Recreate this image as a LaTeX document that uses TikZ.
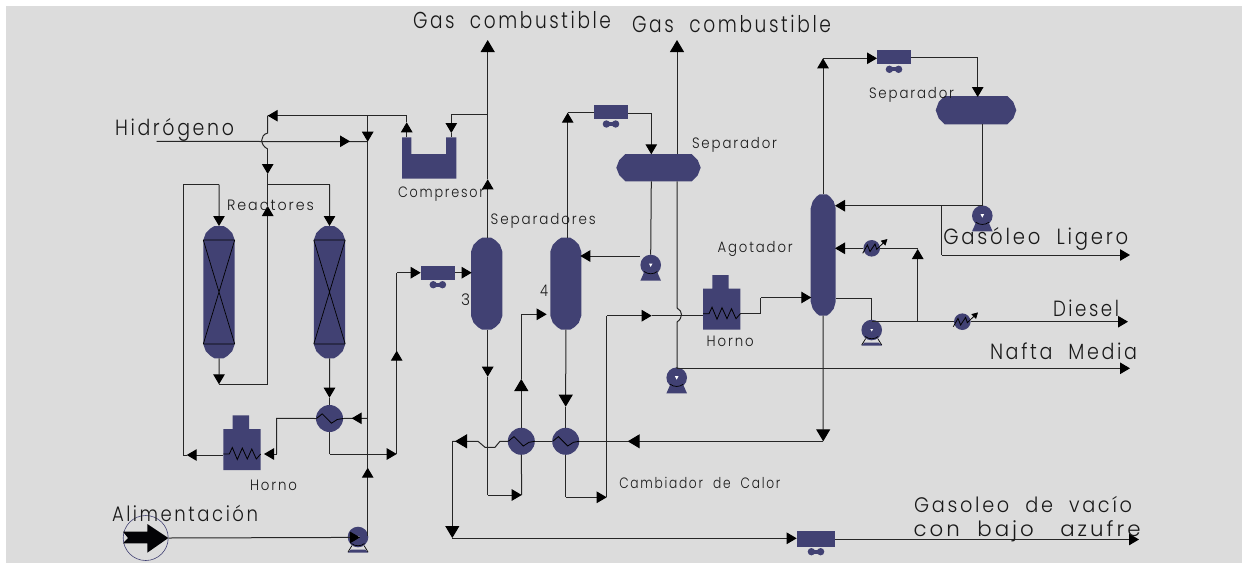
\documentclass[tikz,border=0pt]{standalone}
\usepackage{graphicx}
\usepackage{fontspec}
\setmainfont{Poppins}[UprightFont=* Light,LetterSpace=14]
\usetikzlibrary{arrows.meta}
\definecolor{eq}{HTML}{414173}
\definecolor{bg}{HTML}{DCDCDC}
\definecolor{ln}{HTML}{262626}
\tikzset{
  flow/.style={draw=ln,line width=1pt,line join=miter},
  ar/.style={-{Triangle[length=10pt,width=11.5pt,color=black]}},
  arB/.style={-{Triangle[length=12pt,width=14pt,color=black]}},
  body/.style={inner sep=0pt,outer sep=0pt},
  blockbox/.style={body,fill=eq,rectangle},
  round/.style={body,fill=eq,circle},
  zig/.style={draw=black,line width=0.8pt,line join=miter},
  lbl/.style={anchor=base west,inner sep=0pt,outer sep=0pt,text=black!90}
}
\newcommand{\Pt}[3]{\coordinate (#1) at (#2,#3);}
\newcommand{\towerS}[5]{% name x y w h
  \pgfmathsetmacro{\hh}{#5}\pgfmathsetmacro{\hb}{#5-14}\pgfmathsetmacro{\sc}{#4/31}
  \begin{scope}[shift={(#2,#3)},xscale=\sc]
  \fill[eq] (0,14)--(2.5,7)--(7,2.5)--(11,0)--(20,0)--(24,2.5)--(28.5,7)--(31,14)
    --(31,\hb)--(28.5,\hh-7)--(24,\hh-2.5)--(20,\hh)--(11,\hh)--(7,\hh-2.5)--(2.5,\hh-7)--(0,\hb)--cycle;
  \node[body,minimum width=#4pt,minimum height=#5pt] (#1) at (15.5,\hh/2) {};
  \end{scope}}
\newcommand{\drumS}[5]{% name x1 y1 x2 y2
  \fill[eq] (#2,{(#3+#5)/2})--(#2+3,#3+6)--(#2+9,#3)--(#4-9,#3)--(#4-3,#3+6)--(#4,{(#3+#5)/2})
    --(#4-3,#5-6)--(#4-9,#5)--(#2+9,#5)--(#2+3,#5-6)--cycle;
  \node[body] (#1) at ({(#2+#4)/2},{(#3+#5)/2}) {};}
\newcommand{\blowerS}[5]{% name x1 y1 x2 y2
  \fill[eq] (#2,#3) rectangle (#4,#5);
  \node[body,minimum width={(#4-#2)*1pt},minimum height={(#5-#3)*1pt}] (#1) at ({(#2+#4)/2},{(#3+#5)/2}) {};
  \fill[eq] ({(#2+#4)/2-4.6},#5+5) circle (3.7pt) ({(#2+#4)/2+4.6},#5+5) circle (3.7pt);
  \fill[eq] ({(#2+#4)/2-4.6},#5+3) rectangle ({(#2+#4)/2+4.6},#5+7);}
\newcommand{\pumpS}[3]{% name x y, solid base
  \begin{scope}[shift={(#2,#3)}]
  \node[round,minimum size=20.6pt] (#1) at (0,0) {};
  \fill[eq] (-6.5,7)--(6.5,7)--(10.3,15.7)--(-10.3,15.7)--cycle;
  \draw[black,line width=.7pt] (-6.5,6.5)..controls (-3,9.5) and (3,9.5)..(6.5,6.5);
  \fill[white] (-1.8,-1.5)--(1.8,-1.5)--(0,2)--cycle;
  \end{scope}}
\newcommand{\pumpL}[3]{% name x y, legged base
  \begin{scope}[shift={(#2,#3)}]
  \node[round,minimum size=20.6pt] (#1) at (0,0) {};
  \fill[eq] (-7,12.5)--(7,12.5)--(10.3,15.7)--(-10.3,15.7)--cycle;
  \draw[black,line width=.7pt] (-10,15)--(-6,8.5) (10,15)--(6,8.5);
  \draw[black,line width=.7pt] (-6.5,6.5)..controls (-3,9.5) and (3,9.5)..(6.5,6.5);
  \fill[white] (-1.4,-1)--(1.4,-1)--(0,1.5)--cycle;
  \end{scope}}
\newcommand{\hexS}[3]{% name x y
  \node[round,minimum size=27pt] (#1) at (#2,#3) {};
  \begin{scope}[shift={(#2,#3)}]
  \draw[zig] (-13,0)--(-7.3,-4.7)--(2,4.7)--(7.7,1)--(13.5,0);
  \end{scope}}
\newcommand{\condS}[3]{% name x y
  \node[round,minimum size=16.6pt] (#1) at (#2,#3) {};
  \begin{scope}[shift={(#2,#3)}]
  \draw[zig,-{Triangle[length=6pt,width=6.5pt]}] (-9,5)--(-4.3,-3.3)--(-1.7,3.3)--(3.3,-4.3)--(5,1)--(15.7,-9.3);
  \end{scope}}
\newcommand{\hornoS}[3]{% name x(left) y(top of body)
  \begin{scope}[shift={(#2,#3)}]
  \fill[eq] (0,0)--(9.4,0)--(9.4,-13.7)--(25.7,-13.7)--(25.7,0)--(37.4,0)--(37.4,41)--(0,41)--cycle;
  \node[body,minimum width=37.4pt,minimum height=41pt] (#1) at (18.7,20.5) {};
  \draw[zig] (0,25)--(6,25)--(9,18.5)--(14,30.5)--(19,19)--(24,30)--(28.5,20)--(33,30)--(37.4,25);
  \end{scope}}
\newcommand{\lab}[6]{\node[lbl] (#1) at (#2,#3) {\fontsize{#5pt}{#5pt}\selectfont\resizebox{#4pt}{\height}{#6}};}
\begin{document}
\begin{tikzpicture}[x=1pt,y=-1pt]
\useasboundingbox (0,0) rectangle (1242,563);
\fill[white] (0,0) rectangle (1242,563);
\fill[bg] (6,6) rectangle (1242,563);
% ---------- equipment ----------
\towerS{Ra}{203.3}{226}{31.4}{132.3}
\towerS{Rb}{313.8}{226}{31.4}{132.3}
\foreach \xa/\xb in {203.3/234.7,313.8/345.2}{
  \draw[black,line width=.7pt] (\xa,240)--(\xb,240) (\xa,344)--(\xb,344) (\xa,240)--(\xb,344) (\xb,240)--(\xa,344);}
\towerS{Tc}{471}{237.7}{31.4}{92}
\towerS{Td}{550.3}{237.7}{31}{92}
\towerS{Te}{810.7}{194.3}{25}{121.4}
\drumS{Sa}{616.3}{154}{700.7}{181.3}
\drumS{Sb}{935.7}{96}{1016.3}{124.3}
\blowerS{Ba}{420.7}{266}{455}{279.7}
\blowerS{Bb}{594}{105}{628}{119}
\blowerS{Bc}{877}{50.3}{911}{64.3}
\blowerS{Bd}{796.7}{531}{835.3}{546.7}
\pumpL{Pa}{358}{537}
\pumpS{Pb}{650.7}{265}
\pumpS{Pc}{676.7}{377.7}
\pumpS{Pd}{982.3}{215.7}
\pumpL{Pe}{871.7}{330}
\hexS{Ea}{329.5}{418.5}
\hexS{Eb}{521.3}{441.3}
\hexS{Ec}{565.7}{441.3}
\condS{Ca}{871.7}{248.3}
\condS{Cb}{962.3}{321.7}
\hornoS{Ha}{223.3}{429}
\hornoS{Hb}{703}{288.7}
\fill[eq] (402,137.3)--(411.3,137.3)--(411.3,154)--(446,154)--(446,137.3)--(456.3,137.3)--(456.3,178.7)--(402,178.7)--cycle;
\node[body,minimum width=54.3pt,minimum height=41.4pt] (Cm) at (429.15,158) {};
\node[circle,draw=eq,line width=.6pt,minimum size=45pt,inner sep=0pt] (Fd) at (145.7,538) {};
\fill[black!95!eq] (123,531.7)--(147.3,531.7)--(147.3,524)--(168.3,538)--(147.3,552.7)--(147.3,543.3)--(123,543.3)--(128,538)--cycle;
% ---------- junctions ----------
\Pt{vs}{367.7}{536}\Pt{vu}{367.7}{467.7}\Pt{vb}{367.7}{418.3}\Pt{vc2}{351.7}{418.3}\Pt{vh}{367.7}{141.7}\Pt{vt}{367.7}{115.7}
\Pt{ct}{406.7}{115.7}\Pt{cu}{406.7}{122.3}\Pt{cb}{406.7}{137.3}
\Pt{tl}{267.7}{115.7}\Pt{ha}{267.7}{133}\Pt{hb}{267.7}{149}\Pt{hd}{267.7}{174}\Pt{rj}{267.7}{184.7}\Pt{ru}{267.7}{206}\Pt{rl}{267.7}{384.3}
\Pt{hs}{156.7}{141.3}\Pt{hm}{350}{141.3}
\Pt{rb}{329.5}{184.7}\Pt{ra}{219}{184.7}\Pt{lo}{183.3}{184.7}\Pt{lb}{183.3}{455}\Pt{lt}{186.7}{455}
\Pt{rab}{219}{384.3}
\Pt{rbt}{329.5}{397.7}
\Pt{ea}{276.7}{418.3}\Pt{eb}{276.7}{454}\Pt{ec}{264}{454}
\Pt{fa}{329.5}{454}\Pt{fb}{396.7}{454}\Pt{fu}{396.7}{350.7}\Pt{ft}{396.7}{272.7}
\Pt{vi}{360}{537.4}
\Pt{cr}{451.3}{137}\Pt{crt}{451.3}{133}\Pt{cs}{451.3}{114.3}\Pt{g}{487.7}{114.3}
\Pt{ga}{487.7}{237.7}\Pt{gu}{487.7}{179.3}\Pt{gt}{487.7}{40}
\Pt{gb}{487.7}{329.7}\Pt{gd}{487.7}{376.7}\Pt{ge}{487.7}{495}\Pt{gf}{521.7}{495}
\Pt{tcin}{471.7}{272.7}
\Pt{da}{567.7}{237.7}\Pt{dt}{567.7}{112.7}
\Pt{sa}{651.3}{113.3}\Pt{sb}{651.3}{154.3}\Pt{sc}{651.3}{181.3}
\Pt{pbl}{640}{256}\Pt{pbt}{580.3}{256}
\Pt{w}{677}{154}\Pt{wt}{677}{40}\Pt{wa}{677}{181.3}\Pt{wb}{677}{308}\Pt{wc}{677}{322}\Pt{wd}{677}{368.3}
\Pt{nr}{1130}{368.3}
\Pt{ka}{606.7}{497.3}\Pt{kb}{606.7}{315.7}\Pt{kc}{651.7}{315.7}\Pt{kd}{703}{315.7}
\Pt{ec1}{565.7}{406.7}\Pt{eb1}{521.3}{379}\Pt{eb2}{521.3}{314.3}\Pt{eb3}{546.7}{314.3}\Pt{eb4}{550.3}{314.3}
\Pt{tea}{823.2}{441.3}\Pt{teb}{627.7}{441.3}
\Pt{ja}{500}{441.3}\Pt{jb}{495}{447.3}\Pt{jc}{485}{447.3}\Pt{jd}{478}{441.3}\Pt{je}{455}{441.3}\Pt{jf}{452.3}{441.3}\Pt{jg}{452.3}{538}\Pt{jh}{796.7}{538.3}\Pt{ji}{452.3}{538.3}
\Pt{ba}{835.3}{539.5}\Pt{bb}{1139}{539.5}
\Pt{hba}{760.7}{313.3}\Pt{hbb}{760.7}{297.5}\Pt{hbc}{811.3}{297.5}
\Pt{ta}{823}{194.3}\Pt{tb}{823}{58.3}\Pt{tc}{877}{58.3}
\Pt{ud}{911}{57.3}\Pt{ue}{977.7}{57.3}\Pt{uf}{977.7}{97}
\Pt{va}{982.3}{124.3}\Pt{vc}{982.3}{205.7}\Pt{vd}{835}{205.7}\Pt{ve}{941.7}{205.7}\Pt{vf}{941.7}{255}\Pt{vg}{1130}{255}
\Pt{xa}{917.7}{248.3}\Pt{xb}{835}{248.3}\Pt{xc}{917.7}{321.7}\Pt{xu}{917.7}{249}
\Pt{ya}{835.7}{298.3}\Pt{yb}{871.7}{298.3}\Pt{yd}{871.7}{321.7}\Pt{ye}{1128}{321.7}
% ---------- connectors ----------
\draw[flow,ar] (Fd.east)--(vi);
\draw[flow,ar] (vs)--(vu);
\draw[flow] (vu)--(vt);
\draw[flow,ar] (vt)--(vh);
\draw[flow] (vb)--(Ea.east);
\draw[flow,ar] (vb)--(vc2);
\draw[flow] (cu)--(ct)--(tl);
\draw[flow,ar] (cb)--(cu);
\draw[flow,ar] (vt)--(tl);
\draw[flow] (tl)--(ha)..controls +(-8,2) and +(-8,-4)..(hb);
\draw[flow,ar] (hb)--(hd);
\draw[flow] (hd)--(rj)--(rb);
\draw[flow,ar] (rb)--(Rb.north);
\draw[flow,ar] (rl)--(ru);
\draw[flow] (ru)--(rj);
\draw[flow] (hs)--(vh);
\draw[flow,ar] (hs)--(hm);
\draw[flow] (lb)--(lo)--(ra);
\draw[flow,ar] (ra)--(Ra.north);
\draw[flow,ar] (Ra.south)--(rab);
\draw[flow] (rab)--(rl);
\draw[flow,ar] (Rb.south)--(rbt);
\draw[flow] (rbt)--(Ea.north);
\draw[flow] (Ea.west)--(ea)--(eb);
\draw[flow,ar] (eb)--(ec);
\draw[flow,ar] (Ha.west |- lb)--(lt);
\draw[flow] (lt)--(lb);
\draw[flow] (Ea.south)--(fa);
\draw[flow,ar] (fa)--(fb);
\draw[flow,ar] (fb)--(fu);
\draw[flow] (fu)--(ft);
\draw[flow,ar] (ft)--(Ba.west |- ft);
\draw[flow,ar] (Ba.east |- tcin)--(tcin);
\draw[flow,ar] (cs)--(crt);
\draw[flow] (crt)--(cr);
\draw[flow] (g)--(cs);
\draw[flow,ar] (ga)--(gu);
\draw[flow,arB] (gu)--(gt);
\draw[flow,ar] (gb)--(gd);
\draw[flow] (gd)--(ge);
\draw[flow,ar] (ge)--(gf);
\draw[flow] (gf)--(Eb.south);
\draw[flow,ar] (da)--(dt) ;
\draw[flow] (dt)--(Bb.west |- dt);
\draw[flow] (Bb.east |- sa)--(sa);
\draw[flow,ar] (sa)--(sb);
\draw[flow] (sc)--(Pb.north);
\draw[flow,ar] (pbl)--(pbt);
\draw[flow,arB] (w)--(wt);
\draw[flow] (wa)--(wb)..controls +(6,3) and +(6,-4)..(wc)--(wd);
\draw[flow] (wd)--(Pc.north);
\draw[flow,ar] (wd)--(nr);
\draw[flow,ar] (Ec.south |- ka)--(ka);
\draw[flow] (Ec.south)--(Ec.south |- ka);
\draw[flow] (ka)--(kb);
\draw[flow,ar] (kb)--(kc);
\draw[flow] (kc)--(kd);
\draw[flow,arB] (Td.south)--(ec1);
\draw[flow] (ec1)--(Ec.north);
\draw[flow,arB] (Eb.north)--(eb1);
\draw[flow] (eb1)--(eb2);
\draw[flow,ar] (eb2)--(eb3);
\draw[flow,arB] (tea)--(teb);
\draw[flow] (teb)--(Ec.east);
\draw[flow] (Ec.west)--(Eb.east);
\draw[flow] (Eb.west)--(ja)--(jb)--(jc)--(jd)--(jf);
\draw[flow,arB] (jd)--(je);
\draw[flow,arB] (jf)--(jg);
\draw[flow,ar] (ji)--(jh);
\draw[flow,ar] (ba)--(bb);
\draw[flow] (Hb.east |- hba)--(hba)--(hbb);
\draw[flow,ar] (hbb)--(hbc);
\draw[flow,ar] (ta)--(tb);
\draw[flow,ar] (tb)--(tc);
\draw[flow] (ud)--(ue);
\draw[flow,ar] (ue)--(uf);
\draw[flow] (va)--(vc);
\draw[flow,ar] (vc)--(vd);
\draw[flow] (ve)--(vf);
\draw[flow,ar] (vf)--(vg);
\draw[flow] (xa)--(Ca.east);
\draw[flow,ar] (Ca.west)--(xb);
\draw[flow,ar] (xc)--(xu);
\draw[flow] (ya)--(yb)--(Pe.north);
\draw[flow] (yd)--(Cb.west);
\draw[flow,ar] (Cb.east)--(ye);
\draw[flow,arB] (Te.south)--(tea);
% ---------- labels ----------
\lab{tGa}{413}{28}{198}{23}{Gas\ \ combustible}
\lab{tGb}{632}{32}{199}{23}{Gas\ \ combustible}
\lab{tHi}{115}{135}{119}{22}{Hidrógeno}
\lab{tRe}{227}{210.7}{87}{15}{Reactores}
\lab{tCo}{398}{197}{86}{15}{Compresor}
\lab{tSs}{490.7}{224}{105}{15}{Separadores}
\lab{tSa}{692}{148}{85}{15}{Separador}
\lab{tAg}{717.7}{252.7}{75}{15}{Agotador}
\lab{tTr}{461}{305.7}{9}{16}{3}
\lab{tCu}{540}{296.7}{8}{16}{4}
\lab{tHa}{250}{490}{47}{15}{Horno}
\lab{tHb}{706.7}{346}{47}{15}{Horno}
\lab{tAl}{112}{521}{146}{21}{Alimentación}
\lab{tCa}{619.3}{488.3}{161}{15}{Cambiador\ \ de\ \ Calor}
\lab{tSb}{869}{98}{85}{15}{Separador}
\lab{tLi}{943.3}{244.3}{185}{22}{Gasóleo\ \ Ligero}
\lab{tDi}{1053}{316.7}{66}{22}{Diesel}
\lab{tNa}{990}{359.3}{147}{22}{Nafta\ \ Media}
\lab{tVa}{914}{512.3}{218}{21}{Gasoleo\ \ de\ \ vacío}
\lab{tBa}{913.5}{536.7}{227}{21}{con\ \ bajo\ \ \ azufre}
\end{tikzpicture}
\end{document}
